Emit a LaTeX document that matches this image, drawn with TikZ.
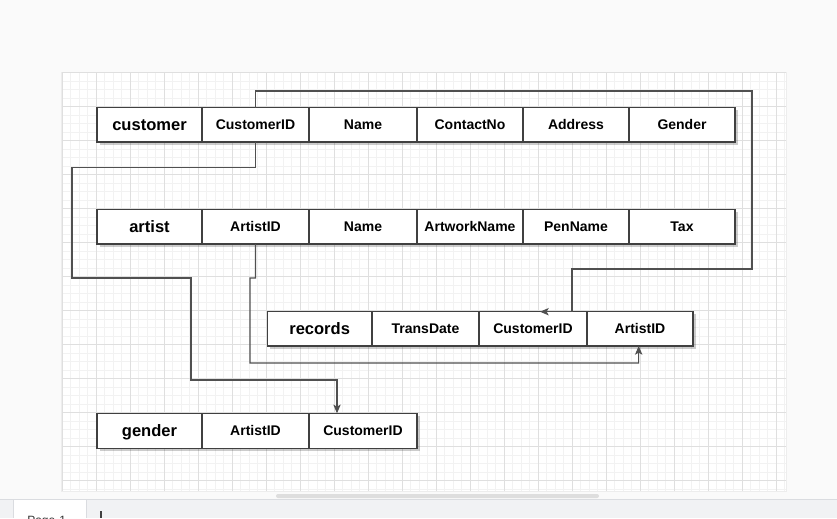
\documentclass[tikz,border=0pt]{standalone}
\usepackage{fontspec}
\setmainfont{Liberation Sans}
\newfontfamily\dejavu{DejaVu Sans}
\usetikzlibrary{shadows,arrows.meta}
\definecolor{bgc}{HTML}{FAFAFA}
\definecolor{minorc}{HTML}{F2F2F2}
\definecolor{majorc}{HTML}{DFDFDF}
\definecolor{boxc}{HTML}{404040}
\definecolor{connc}{HTML}{505050}
\definecolor{barc}{HTML}{F1F2F4}
\definecolor{barline}{HTML}{DADCE0}
\definecolor{scrollc}{HTML}{DEDEDE}
\newcommand{\tcell}[7]{\node[#6, minimum width={(#3-#2)*0.75pt}, minimum height={(#5-#4)*0.75pt}, anchor=north west] (#1) at (#2,#4) {#7};}
\begin{document}
\begin{tikzpicture}[x=0.75pt,y=-0.75pt,
  cellbase/.style={draw=boxc, line width=1.05pt, fill=white, inner sep=0pt, outer sep=0pt,
    text height=0.72em, text depth=0pt,
    drop shadow={shadow xshift=2pt, shadow yshift=-2pt, fill=black, opacity=0.2}},
  tname/.style={cellbase, text height=0.84em, font={\fontsize{12.4}{14}\selectfont\bfseries}},
  tfield/.style={cellbase, font={\fontsize{10.5}{12}\selectfont\bfseries}},
  conn/.style={draw=connc, line width=0.8pt},
  tip/.style={-{Stealth[length=6.5pt,width=5.5pt,inset=1.5pt]}},
  minorg/.style={draw=minorc, line width=0.75pt},
  majorg/.style={draw=majorc, line width=0.75pt}]
\useasboundingbox (0,0) rectangle (837,518);
\clip (0,0) rectangle (837,518);
\fill[bgc] (0,0) rectangle (837,518);
% canvas
\fill[black!7] (60.7,71.7) rectangle (787.2,491.7);
\fill[white] (61.7,72.7) rectangle (785.7,490.7);
\foreach \i in {0,...,85} {\draw[minorg] ({62.3+8.5*\i},72.7) -- ({62.3+8.5*\i},490.7);}
\foreach \i in {0,...,49} {\draw[minorg] (61.7,{72.7+8.5*\i}) -- (785.7,{72.7+8.5*\i});}
\foreach \i in {0,...,21} {\draw[majorg] ({62.3+34*\i},72.7) -- ({62.3+34*\i},490.7);}
\foreach \i in {0,...,12} {\draw[majorg] (61.7,{72.7+34*\i}) -- (785.7,{72.7+34*\i});}
% customer
\tcell{c1}{97}{202}{107.5}{142}{tname}{customer}
\tcell{c2}{202}{309}{107.5}{142}{tfield}{CustomerID}
\tcell{c3}{309}{417}{107.5}{142}{tfield}{Name}
\tcell{c4}{417}{523}{107.5}{142}{tfield}{ContactNo}
\tcell{c5}{523}{629}{107.5}{142}{tfield}{Address}
\tcell{c6}{629}{735}{107.5}{142}{tfield}{Gender}
% artist
\tcell{a1}{97}{202}{209.7}{244}{tname}{artist}
\tcell{a2}{202}{309}{209.7}{244}{tfield}{ArtistID}
\tcell{a3}{309}{417}{209.7}{244}{tfield}{Name}
\tcell{a4}{417}{523}{209.7}{244}{tfield}{ArtworkName}
\tcell{a5}{523}{629}{209.7}{244}{tfield}{PenName}
\tcell{a6}{629}{735}{209.7}{244}{tfield}{Tax}
% records
\tcell{r1}{267.3}{372}{311.7}{346}{tname}{records}
\tcell{r2}{372}{479}{311.7}{346}{tfield}{TransDate}
\tcell{r3}{479}{587}{311.7}{346}{tfield}{CustomerID}
\tcell{r4}{587}{693}{311.7}{346}{tfield}{ArtistID}
% gender
\tcell{g1}{97}{202}{413.3}{448.3}{tname}{gender}
\tcell{g2}{202}{309}{413.3}{448.3}{tfield}{ArtistID}
\tcell{g3}{309}{417}{413.3}{448.3}{tfield}{CustomerID}
% connectors
\draw[conn,tip] (c2.north) |- (752,91) |- (572,269) |- ([xshift=5.25pt]r3.north);
\draw[conn,tip] (c2.south) |- (72,167.5) |- (191,278) |- (337,380) -- ([xshift=-19.5pt]g3.north);
\draw[conn,tip] (a2.south) |- (250,278) |- (638.7,363) -- ([xshift=-1pt]r4.south);
% scrollbar and page bar
\fill[scrollc, rounded corners=1.5pt] (276,494) rectangle (599,498);
\fill[barc] (0,500) rectangle (837,518);
\draw[barline, line width=0.75pt] (0,499.8) -- (837,499.8);
\fill[white] (13.3,500) rectangle (86.3,518);
\draw[barline, line width=0.75pt] (13.3,500) -- (13.3,518) (86.3,500) -- (86.3,518);
\node[anchor=base west, inner sep=0pt, text=black!80, font={\fontsize{9}{11}\selectfont}] (pg) at (27,524.5) {Page-1 {\dejavu\fontsize{7}{8}\selectfont ▾}};
\draw[black!75, line width=0.9pt] (101,511) -- (101,518);
\end{tikzpicture}
\end{document}
